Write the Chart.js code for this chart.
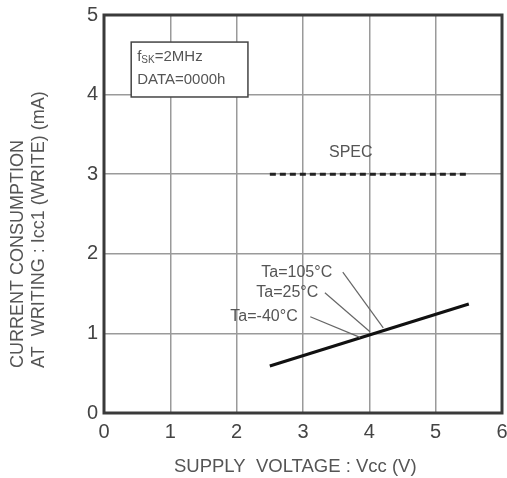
<!DOCTYPE html>
<html>
<head>
<meta charset="utf-8">
<script src="https://cdn.jsdelivr.net/npm/chart.js@4.4.1/dist/chart.umd.min.js"></script>
<style>
    html, body { margin: 0; padding: 0; background: #fff; }
    #wrap { width: 507px; height: 478px; }
</style>
</head>
<body>
<div id="wrap"><canvas id="iccChart" width="507" height="478"></canvas></div>
<script>
// values
const supplyVoltage = [2.5, 5.5];
const iccWrite = [0.59, 1.37];
const specVoltage = [2.5, 5.5];
const specCurrent = [3, 3];

const xTicks = [0, 1, 2, 3, 4, 5, 6];
const yTicks = [0, 1, 2, 3, 4, 5];

// temperature labels and their leader lines (data coordinates)
const tempLabels = ["Ta=105°C", "Ta=25°C", "Ta=-40°C"];
const tempLabelAt = [[3.44, 1.77], [3.23, 1.51], [2.92, 1.21]];
const tempLeaderFrom = [[3.6, 1.77], [3.33, 1.51], [3.11, 1.21]];
const tempLeaderTo = [[4.21, 1.07], [4.01, 1.02], [3.86, 0.95]];

const FONT = "'Liberation Sans', Arial, sans-serif";
const GRAY = "#555";

const notesPlugin = {
    id: "notes",
    afterDraw(chart) {
        const ctx = chart.ctx;
        const xs = chart.scales.x;
        const ys = chart.scales.y;
        const px = (v) => xs.getPixelForValue(v);
        const py = (v) => ys.getPixelForValue(v);
        const area = chart.chartArea;

        ctx.save();
        // frame
        ctx.strokeStyle = "#3a3a3a";
        ctx.lineWidth = 3;
        ctx.strokeRect(area.left, area.top, area.right - area.left, area.bottom - area.top);

        // condition box
        const bx = px(0.41), by = py(4.66);
        const bw = px(2.17) - bx, bh = py(3.97) - by;
        ctx.fillStyle = "#fff";
        ctx.fillRect(bx, by, bw, bh);
        ctx.strokeStyle = "#444";
        ctx.lineWidth = 1.5;
        ctx.strokeRect(bx, by, bw, bh);

        ctx.fillStyle = GRAY;
        ctx.textBaseline = "middle";
        ctx.textAlign = "left";
        let tx = bx + 6;
        ctx.font = "15px " + FONT;
        ctx.fillText("f", tx, by + 15);
        tx += ctx.measureText("f").width;
        ctx.font = "10px " + FONT;
        ctx.fillText("SK", tx, by + 18);
        tx += ctx.measureText("SK").width;
        ctx.font = "15px " + FONT;
        ctx.fillText("=2MHz", tx, by + 15);
        ctx.fillText("DATA=0000h", bx + 6, by + 38);

        // SPEC label
        ctx.textAlign = "center";
        ctx.font = "16px " + FONT;
        ctx.fillText("SPEC", px(3.72), py(3.27));

        // temperature labels + leaders
        ctx.textAlign = "right";
        ctx.strokeStyle = "#666";
        ctx.lineWidth = 1.2;
        tempLabels.forEach((label, i) => {
            ctx.fillText(label, px(tempLabelAt[i][0]), py(tempLabelAt[i][1]));
            ctx.beginPath();
            ctx.moveTo(px(tempLeaderFrom[i][0]), py(tempLeaderFrom[i][1]));
            ctx.lineTo(px(tempLeaderTo[i][0]), py(tempLeaderTo[i][1]));
            ctx.stroke();
        });
        ctx.restore();
    },
};

new Chart(document.getElementById("iccChart"), {
    type: "line",
    data: {
        datasets: [
            {
                label: "Icc1",
                data: supplyVoltage.map((v, i) => ({ x: v, y: iccWrite[i] })),
                borderColor: "#111",
                borderWidth: 3,
                pointRadius: 0,
                fill: false,
            },
            {
                label: "SPEC",
                data: specVoltage.map((v, i) => ({ x: v, y: specCurrent[i] })),
                borderColor: "#222",
                borderWidth: 3,
                borderDash: [6, 4],
                pointRadius: 0,
                fill: false,
            },
        ],
    },
    options: {
        responsive: false,
        animation: false,
        layout: { padding: { top: 15, right: 5, left: 0, bottom: 0 } },
        plugins: {
            legend: { display: false },
            tooltip: { enabled: false },
        },
        scales: {
            x: {
                type: "linear",
                min: 0,
                max: 6,
                afterBuildTicks: (s) => { s.ticks = xTicks.map((v) => ({ value: v })); },
                afterFit: (s) => {
                    s.height = 65;
                    s.paddingLeft = 0;
                    s.paddingRight = 0;
                },
                grid: { color: "#9a9a9a", lineWidth: 1.5, drawTicks: false },
                border: { display: false },
                ticks: { color: "#444", font: { size: 20, family: FONT }, padding: 7 },
                title: {
                    display: true,
                    text: "SUPPLY  VOLTAGE : Vcc (V)   ",
                    color: GRAY,
                    font: { size: 18.5, family: FONT },
                    padding: { top: 3, bottom: 0 },
                },
            },
            y: {
                type: "linear",
                min: 0,
                max: 5,
                afterBuildTicks: (s) => { s.ticks = yTicks.map((v) => ({ value: v })); },
                afterFit: (s) => {
                    s.width = 104;
                    s.paddingTop = 0;
                    s.paddingBottom = 0;
                },
                grid: { color: "#9a9a9a", lineWidth: 1.5, drawTicks: false },
                border: { display: false },
                ticks: { color: "#444", font: { size: 20, family: FONT }, padding: 6 },
                title: {
                    display: true,
                    align: "start",
                    text: ["         CURRENT CONSUMPTION", "         AT  WRITING : Icc1 (WRITE) (mA)"],
                    color: GRAY,
                    font: { size: 18, family: FONT, lineHeight: 1.2 },
                    padding: { top: 7, bottom: 0 },
                },
            },
        },
    },
    plugins: [notesPlugin],
});
</script>
</body>
</html>
